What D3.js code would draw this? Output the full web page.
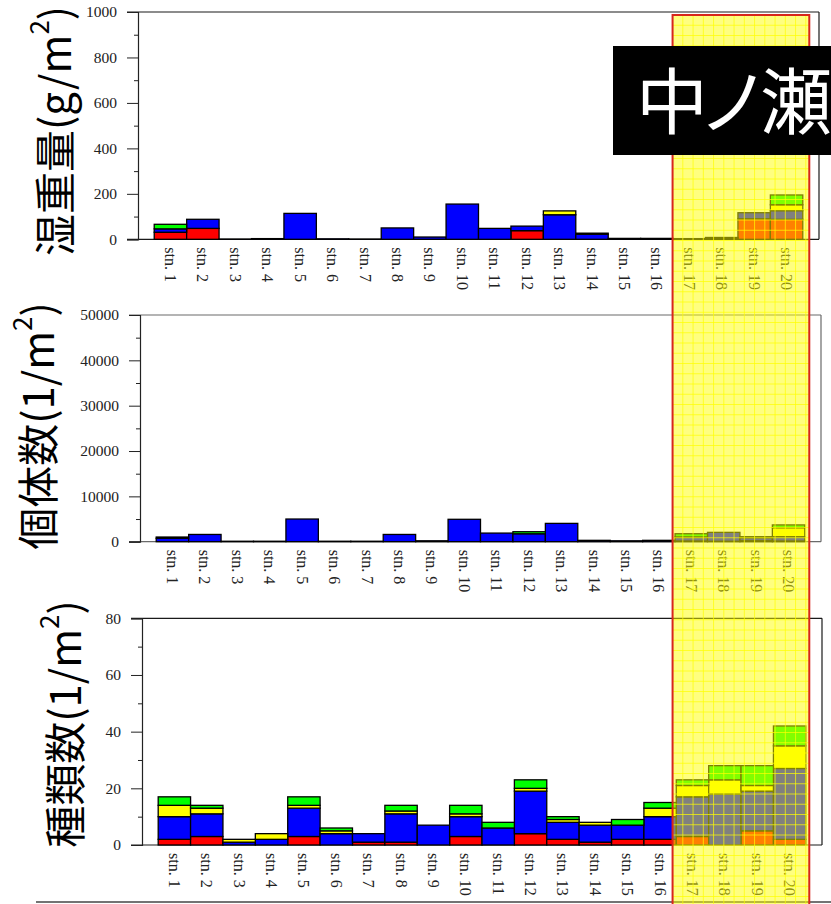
<!DOCTYPE html>
<html>
<head>
<meta charset="utf-8">
<script src="https://cdn.jsdelivr.net/npm/d3@7"></script>
<style>
  body { margin: 0; background: #fff; }
  svg { display: block; }
</style>
</head>
<body>
<svg id="fig" width="831" height="904"></svg>
<script>
// Sampling stations
const stations = ["stn. 1","stn. 2","stn. 3","stn. 4","stn. 5","stn. 6","stn. 7","stn. 8","stn. 9","stn. 10",
                  "stn. 11","stn. 12","stn. 13","stn. 14","stn. 15","stn. 16","stn. 17","stn. 18","stn. 19","stn. 20"];

// Taxon groups, stacked bottom to top
const groups = ["red", "blue", "yellow", "green"];
const groupColors = ["#ff0000", "#0000ff", "#ffff00", "#00ff00"];

// Wet weight (g/m2)
const wetRed    = [31, 48, 0, 0,   0, 0, 0,  0,  0,   0,  0, 38,   0,  0, 0, 0, 0, 0, 90, 88];
const wetBlue   = [15, 40, 1, 3, 114, 2, 1, 50, 10, 155, 48, 20, 108, 22, 4, 4, 2, 6, 27, 38];
const wetYellow = [ 0,  0, 0, 0,   0, 0, 0,  0,  0,   0,  0,  0,  17,  5, 0, 0, 1, 2,  0, 26];
const wetGreen  = [20,  0, 0, 0,   0, 0, 0,  0,  0,   0,  0,  0,   0,  0, 0, 0, 0, 0,  0, 43];

// Individual count (1/m2)
const indRed    = [  0,    0,   0,   0,    0,   0,   0,    0,   0,    0,    0,    0,    0,   0,   0,   0, 150,  100, 200,  150];
const indBlue   = [750, 1600, 100, 100, 5000, 100, 100, 1600, 200, 4940, 1900, 1750, 4040, 300, 200, 300, 900, 1960, 700,  950];
const indYellow = [  0,    0,   0,   0,    0,   0,   0,    0,   0,    0,    0,    0,    0,   0,   0,   0,   0,    0,   0, 2000];
const indGreen  = [280,    0,   0,   0,    0,   0,   0,    0,   0,    0,    0,  450,    0,   0,   0,   0, 710,    0, 200,  600];

// Number of species (1/m2)
const spRed    = [2, 3, 0, 0,  3, 0, 1,  1, 0, 3, 0,  4, 2, 1, 2, 2,  3,  0,  5,  2];
const spBlue   = [8, 8, 1, 2, 10, 4, 3, 10, 7, 7, 6, 15, 6, 6, 5, 8, 14, 18, 14, 25];
const spYellow = [4, 2, 1, 2,  1, 1, 0,  1, 0, 1, 0,  1, 1, 1, 0, 3,  4,  5,  2,  8];
const spGreen  = [3, 1, 0, 0,  3, 1, 0,  2, 0, 3, 2,  3, 1, 0, 2, 2,  2,  5,  7,  7];

// Axis ticks
const wetTicks = [0, 200, 400, 600, 800, 1000];
const indTicks = [0, 10000, 20000, 30000, 40000, 50000];
const spTicks  = [0, 20, 40, 60, 80];

// Highlighted area
const highlightLabel = "中ノ瀬";
const highlightStations = ["stn. 17", "stn. 20"];

const svg = d3.select("#fig");

function rows(a, b, c, d) {
  return stations.map((s, i) => ({ station: s, red: a[i], blue: b[i], yellow: c[i], green: d[i] }));
}

const panels = [
  { title: ["湿重量(g/m", ")"], titleX: 52, titleY: 131,
    top: 12, bottom: 239.3, left: 138, right: 819, frame: "#1a1a1a",
    ticks: wetTicks, data: rows(wetRed, wetBlue, wetYellow, wetGreen) },
  { title: ["個体数(1/m", ")"], titleX: 35, titleY: 426,
    top: 315, bottom: 541.7, left: 140, right: 821, frame: "#6a6a6a",
    ticks: indTicks, data: rows(indRed, indBlue, indYellow, indGreen) },
  { title: ["種類数(1/m", ")"], titleX: 62, titleY: 724,
    top: 618.3, bottom: 845, left: 142, right: 822, frame: "#1a1a1a",
    ticks: spTicks, data: rows(spRed, spBlue, spYellow, spGreen) }
];

const stack = d3.stack().keys(groups);
let firstX = null;

panels.forEach(p => {
  const maxV = p.ticks[p.ticks.length - 1];
  const x = d3.scaleBand().domain(stations).range([p.left, p.right]).paddingInner(0).paddingOuter(0.5);
  const y = d3.scaleLinear().domain([0, maxV]).range([p.bottom, p.top]);
  if (!firstX) firstX = x;

  const g = svg.append("g");

  // frame: top, right and bottom edges
  g.append("line").attr("x1", p.left - 11).attr("x2", p.right).attr("y1", p.top).attr("y2", p.top)
    .attr("stroke", p.frame).attr("stroke-width", 1.2);
  g.append("line").attr("x1", p.right).attr("x2", p.right).attr("y1", p.top).attr("y2", p.bottom)
    .attr("stroke", p.frame).attr("stroke-width", 1.2);
  g.append("line").attr("x1", p.left - 11).attr("x2", p.right).attr("y1", p.bottom).attr("y2", p.bottom)
    .attr("stroke", p.frame).attr("stroke-width", 1.2);

  // minor ticks
  const step = p.ticks[1] - p.ticks[0];
  const minors = p.ticks.slice(0, -1).map(t => t + step / 2);
  g.append("g").attr("transform", `translate(${p.left},0)`)
    .call(d3.axisLeft(y).tickValues(minors).tickSize(4).tickFormat(""))
    .call(a => a.select(".domain").remove())
    .call(a => a.selectAll("line").attr("stroke", "#222"));

  // major ticks and labels
  g.append("g").attr("transform", `translate(${p.left},0)`)
    .call(d3.axisLeft(y).tickValues(p.ticks).tickSize(11).tickPadding(10).tickFormat(d3.format("d")))
    .call(a => a.select(".domain").attr("stroke", "#222").attr("stroke-width", 1.2))
    .call(a => a.selectAll("line").attr("stroke", "#222"))
    .call(a => a.selectAll("text").attr("font-family", "'Liberation Serif', 'DejaVu Serif', serif")
      .attr("font-size", 15.5).attr("fill", "#222"));

  // stacked bars
  const series = stack(p.data);
  g.append("g").selectAll("g").data(series).join("g")
    .attr("fill", d => groupColors[groups.indexOf(d.key)])
    .selectAll("rect").data(d => d.filter(v => v[1] - v[0] > 0)).join("rect")
    .attr("x", d => x(d.data.station))
    .attr("width", x.bandwidth())
    .attr("y", d => y(d[1]))
    .attr("height", d => y(d[0]) - y(d[1]))
    .attr("stroke", "#000").attr("stroke-width", 1.3);

  // station labels, rotated
  g.append("g").selectAll("text").data(stations).join("text")
    .attr("transform", d => `translate(${x(d) + x.bandwidth() / 2},${p.bottom + 8}) rotate(90)`)
    .attr("dominant-baseline", "central")
    .attr("font-family", "'Liberation Serif', 'DejaVu Serif', serif")
    .attr("font-size", 16).attr("fill", "#222")
    .text(d => d);

  // vertical axis title
  const t = svg.append("text")
    .attr("transform", `translate(${p.titleX},${p.titleY}) rotate(-90)`)
    .attr("text-anchor", "middle").attr("dominant-baseline", "central")
    .attr("font-family", "'Noto Sans CJK JP', sans-serif")
    .attr("font-size", 42).attr("fill", "#000");
  t.append("tspan").text(p.title[0]);
  t.append("tspan").attr("font-size", 26).attr("dy", -15).text("2");
  t.append("tspan").attr("dy", 15).text(p.title[1]);
});

// bottom rule of the figure
svg.append("line").attr("x1", 36).attr("x2", 831).attr("y1", 902).attr("y2", 902)
  .attr("stroke", "#444").attr("stroke-width", 1.5);

// translucent highlight over the last stations
const hx0 = firstX(highlightStations[0]) - 0.5;
const hx1 = firstX(highlightStations[1]) + firstX.bandwidth() + 6.5;
const hy0 = 15, hy1 = 910;
const hl = svg.append("g");
hl.append("rect").attr("x", hx0).attr("y", hy0).attr("width", hx1 - hx0).attr("height", hy1 - hy0)
  .attr("fill", "#ffff00").attr("fill-opacity", 0.5);
const gridStep = 10.25;
hl.append("g").selectAll("line").data(d3.range(hx0 + gridStep, hx1, gridStep)).join("line")
  .attr("x1", d => d).attr("x2", d => d).attr("y1", hy0).attr("y2", hy1)
  .attr("stroke", "#ffff00").attr("stroke-opacity", 0.7).attr("stroke-width", 1);
hl.append("g").selectAll("line").data(d3.range(hy0 + gridStep, hy1, gridStep)).join("line")
  .attr("y1", d => d).attr("y2", d => d).attr("x1", hx0).attr("x2", hx1)
  .attr("stroke", "#ffff00").attr("stroke-opacity", 0.7).attr("stroke-width", 1);
hl.append("rect").attr("x", hx0).attr("y", hy0).attr("width", hx1 - hx0).attr("height", hy1 - hy0)
  .attr("fill", "none").attr("stroke", "#d8261c").attr("stroke-width", 2);

// label box, above the highlight
svg.append("rect").attr("x", 613).attr("y", 46).attr("width", 240).attr("height", 109).attr("fill", "#000");
svg.append("text").attr("x", 636).attr("y", 128)
  .attr("font-family", "'Noto Sans CJK JP', sans-serif").attr("font-size", 72)
  .attr("letter-spacing", -10).attr("fill", "#fff")
  .text(highlightLabel);
</script>
</body>
</html>
